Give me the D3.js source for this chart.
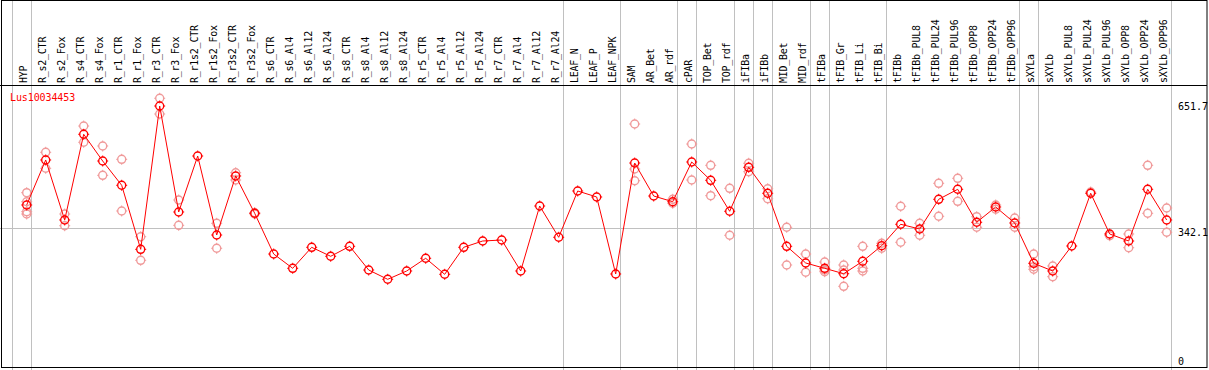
<html>
<script src="https://cdn.jsdelivr.net/npm/d3@7/dist/d3.min.js" charset="utf-8"></script>
<style>
body { margin: 0; background: white; }
text { font-family: "DejaVu Sans Mono", monospace; font-size: 10px; }
</style>
<body>
</body>
<script>

// gene shown in the plot
var geneName = "Lus10034453";

var categories = ["HYP", "R_s2_CTR", "R_s2_Fox", "R_s4_CTR", "R_s4_Fox", "R_r1_CTR", "R_r1_Fox",
	"R_r3_CTR", "R_r3_Fox", "R_r1s2_CTR", "R_r1s2_Fox", "R_r3s2_CTR", "R_r3s2_Fox",
	"R_s6_CTR", "R_s6_Al4", "R_s6_Al12", "R_s6_Al24", "R_s8_CTR", "R_s8_Al4", "R_s8_Al12", "R_s8_Al24",
	"R_r5_CTR", "R_r5_Al4", "R_r5_Al12", "R_r5_Al24", "R_r7_CTR", "R_r7_Al4", "R_r7_Al12", "R_r7_Al24",
	"LEAF_N", "LEAF_P", "LEAF_NPK", "SAM", "AR_Bet", "AR_rdf", "cPAR", "TOP_Bet", "TOP_rdf",
	"iFIBa", "iFIBb", "MID_Bet", "MID_rdf", "tFIBa", "tFIB_Gr", "tFIB_Li", "tFIB_Bi", "tFIBb",
	"tFIBb_PUL8", "tFIBb_PUL24", "tFIBb_PUL96", "tFIBb_OPP8", "tFIBb_OPP24", "tFIBb_OPP96",
	"sXYLa", "sXYLb", "sXYLb_PUL8", "sXYLb_PUL24", "sXYLb_PUL96", "sXYLb_OPP8", "sXYLb_OPP24", "sXYLb_OPP96"];

// mean expression per sample
var means = [400.5, 514.7, 362.4, 579.9, 512.1, 450.5, 288.0,
	651.7, 382.7, 524.8, 324.3, 474.1, 379.4,
	276.1, 239.8, 293.1, 270.3, 295.6, 235.5, 211.9, 233.0,
	265.2, 224.6, 293.1, 309.1, 311.6, 233.0, 397.9, 318.5,
	436.0, 420.8, 225.4, 507.0, 423.3, 408.8, 509.6, 463.1, 384.5,
	496.1, 430.2, 295.6, 253.3, 239.8, 226.1, 257.6, 297.2, 351.5,
	339.5, 414.9, 440.3, 356.6, 395.4, 354.8,
	252.5, 233.0, 296.4, 430.2, 326.9, 309.1, 440.3, 362.4];

// individual replicates per sample
var replicates = [[431.7, 408.8, 383.5, 377.6], [534.2, 493.6], [377.6, 347.9], [600.9, 559.6], [550.2, 475.8], [516.4, 385.3], [320.0, 260.1],
	[671.3, 631.4], [413.2, 348.9], [], [354.0, 290.6], [482.4, 463.9], [380.9, 377.6],
	[], [], [], [], [], [], [], [],
	[], [], [], [], [], [], [], [],
	[], [], [], [606.0, 491.8, 462.1], [], [414.9, 404.8], [555.2, 463.9], [501.2, 424.1], [442.8, 323.6],
	[506.4, 484.9], [441.8, 416.4], [343.9, 248.2], [276.1, 229.7], [255.8, 231.2, 235.5], [248.2, 194.1, 235.5], [295.6, 239.8, 233.0], [303.3, 290.6], [397.2, 305.8],
	[354.0, 323.6], [455.5, 371.8], [468.2, 409.8], [370.8, 343.9], [400.5, 389.6], [367.5, 343.9],
	[276.1, 243.9, 237.3], [245.7, 218.5], [], [433.5], [322.6], [326.9, 292.1], [501.2, 379.4], [392.9, 331.2]];

// group separators drawn after these samples
var groupEnds = ["HYP", "R_r7_Al24", "LEAF_NPK", "AR_rdf", "cPAR", "TOP_rdf", "iFIBa", "iFIBb",
	"MID_rdf", "tFIBa", "tFIB_Bi", "tFIBb_OPP96", "sXYLa", "sXYLb_OPP96"];

// labels on the right axis
var yTicks = [651.7, 342.1, 0];

drawChart();

function drawChart() {
	var w = 1209, h = 370;
	var headerY = 85;

	var svg = d3.select("body").append("svg")
		.attr("width", w)
		.attr("height", h);

	var x = d3.scalePoint()
		.domain(categories)
		.range([26.7, 1166.7]);
	var step = x.step();

	var y = d3.scaleLinear()
		.domain([0, 651.7])
		.range([362.8, 106]);

	// vertical separators
	var sepX = [x(categories[0]) - step + 4].concat(groupEnds.map(function(c) { return x(c) + 4; }));
	svg.selectAll(".sep").data(sepX).enter().append("line")
		.attr("x1", function(d) { return Math.round(d) + 0.5; })
		.attr("x2", function(d) { return Math.round(d) + 0.5; })
		.attr("y1", 0).attr("y2", h)
		.style("stroke", "#c0c0c0")
		.style("stroke-width", 1);

	// reference line at the middle value
	svg.append("line")
		.attr("x1", 0).attr("x2", Math.round(sepX[sepX.length - 1]) + 0.5)
		.attr("y1", Math.round(y(yTicks[1])) + 0.5)
		.attr("y2", Math.round(y(yTicks[1])) + 0.5)
		.style("stroke", "#c0c0c0");

	// frame
	svg.append("rect")
		.attr("x", 1.5).attr("y", 0.5)
		.attr("width", w - 3.5).attr("height", h - 3)
		.style("fill", "none")
		.style("stroke", "black");
	svg.append("line")
		.attr("x1", 0).attr("x2", w - 2)
		.attr("y1", headerY + 0.5).attr("y2", headerY + 0.5)
		.style("stroke", "black");

	// sample names
	svg.selectAll(".lab").data(categories).enter().append("text")
		.attr("transform", function(d) { return "translate(" + (x(d) + 0.5) + "," + (headerY - 2) + ") rotate(-90)"; })
		.style("letter-spacing", "-0.25px")
		.style("fill", "black")
		.text(function(d) { return d; });

	// gene name
	svg.append("text")
		.attr("x", 10).attr("y", 101)
		.style("fill", "red")
		.style("letter-spacing", "-0.1px")
		.text(geneName);

	// right axis values
	var tickY = [106.7, 232.3, 361.7];
	svg.selectAll(".tick").data(yTicks).enter().append("text")
		.attr("x", 1178)
		.attr("y", function(d, i) { return tickY[i]; })
		.attr("dy", "0.35em")
		.style("fill", "black")
		.text(function(d) { return d; });

	// replicate markers
	var reps = [];
	replicates.forEach(function(r, i) {
		r.forEach(function(v) { reps.push({ c: categories[i], v: v }); });
	});
	var repG = svg.selectAll(".rep").data(reps).enter().append("g")
		.attr("transform", function(d) { return "translate(" + x(d.c) + "," + y(d.v) + ")"; });
	marker(repG, "#f09a9a");

	// mean line
	var line = d3.line()
		.x(function(d, i) { return x(categories[i]); })
		.y(function(d) { return y(d); });
	svg.append("path")
		.datum(means)
		.attr("d", line)
		.style("fill", "none")
		.style("stroke", "red")
		.style("stroke-width", 1);

	var meanG = svg.selectAll(".mean").data(means).enter().append("g")
		.attr("transform", function(d, i) { return "translate(" + x(categories[i]) + "," + y(d) + ")"; });
	marker(meanG, "red");
}

function marker(g, col) {
	g.append("circle")
		.attr("r", 4)
		.style("fill", "none")
		.style("stroke", col)
		.style("stroke-width", 1.4);
	// little nubs around the circle
	var nubs = [[0, -4, 0, -5.5], [0, 4, 0, 5.5], [-4, 0, -5.5, 0], [4, 0, 5.5, 0]];
	nubs.forEach(function(n) {
		g.append("line")
			.attr("x1", n[0]).attr("y1", n[1])
			.attr("x2", n[2]).attr("y2", n[3])
			.style("stroke", col)
			.style("stroke-width", 1);
	});
}

</script>
</html>
